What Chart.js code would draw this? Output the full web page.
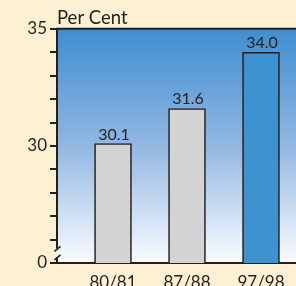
<!DOCTYPE html>
<html>
<head>
<meta charset="utf-8">
<script src="https://cdn.jsdelivr.net/npm/chart.js@4/dist/chart.umd.min.js"></script>
<style>
  html, body { margin: 0; padding: 0; background: #FEF1D3; }
  #wrap { width: 296px; height: 286px; overflow: hidden; }
</style>
</head>
<body>
<div id="wrap"><canvas id="c" width="296" height="286"></canvas></div>
<script>
const categories = ['80/81', '87/88', '97/98'];
const values = [30.1, 31.6, 34.0];
const barColors = ['#D3D3D3', '#D3D3D3', '#3F92D0'];
const yTickValues = [25, 26, 27, 28, 29, 30, 31, 32, 33, 34, 35];
const yLabelValues = [25, 30, 35];
const yLabelText = ['0', '30', '35'];
const yAxisTitle = 'Per Cent';

const INK = '#231F20';
const CREAM = '#FEF1D3';
Chart.defaults.font.family = 'Lato, "Open Sans", sans-serif';
Chart.defaults.color = INK;

const bgPlugin = {
  id: 'bg',
  beforeDraw(chart) {
    const { ctx, chartArea: a } = chart;
    ctx.save();
    ctx.fillStyle = CREAM;
    ctx.fillRect(0, 0, chart.width, chart.height);
    const g = ctx.createLinearGradient(0, a.top, 0, a.bottom);
    g.addColorStop(0, '#3F8ED0');
    g.addColorStop(0.5, '#92B7E1');
    g.addColorStop(1, '#FAFCFF');
    ctx.fillStyle = g;
    ctx.fillRect(a.left, a.top, a.right - a.left, a.bottom - a.top);
    ctx.restore();
  }
};

const framePlugin = {
  id: 'frame',
  afterDraw(chart) {
    const { ctx, chartArea: a } = chart;
    const y = chart.scales.y;
    const L = a.left;
    const gapTop = y.getPixelForValue(25.62);
    const gapBot = y.getPixelForValue(25.22);
    ctx.save();
    ctx.strokeStyle = INK;
    ctx.lineWidth = 2;
    ctx.beginPath();
    ctx.moveTo(a.left, a.top);
    ctx.lineTo(a.right, a.top);
    ctx.moveTo(L, a.top - 1);
    ctx.lineTo(L, gapTop);
    ctx.moveTo(L, gapBot);
    ctx.lineTo(L, a.bottom);
    ctx.stroke();
    ctx.lineWidth = 1.6;
    ctx.beginPath();
    ctx.moveTo(L - 2.5, gapTop + 3);
    ctx.lineTo(L + 3.5, gapTop - 2);
    ctx.moveTo(L - 2.5, gapBot + 2);
    ctx.lineTo(L + 3.5, gapBot - 3);
    ctx.stroke();
    ctx.restore();
  }
};

const labelPlugin = {
  id: 'vlabels',
  afterDatasetsDraw(chart) {
    const { ctx } = chart;
    const meta = chart.getDatasetMeta(0);
    ctx.save();
    ctx.fillStyle = INK;
    ctx.font = '16px Lato, "Open Sans", sans-serif';
    ctx.textAlign = 'center';
    ctx.textBaseline = 'alphabetic';
    meta.data.forEach((bar, i) => {
      ctx.fillText(values[i].toFixed(1), bar.x + 1, bar.y - 4);
    });
    ctx.restore();
  }
};

new Chart(document.getElementById('c'), {
  type: 'bar',
  data: {
    datasets: [{
      data: categories.map((c, i) => ({ x: i, y: values[i] })),
      backgroundColor: barColors,
      borderColor: INK,
      borderWidth: 1.6,
      borderSkipped: 'bottom',
      barThickness: 37
    }]
  },
  options: {
    responsive: false,
    animation: false,
    layout: { padding: 0 },
    plugins: {
      legend: { display: false },
      tooltip: { enabled: false },
      title: {
        display: true,
        text: yAxisTitle,
        align: 'start',
        fullSize: false,
        color: INK,
        font: { size: 18.5, weight: 'normal', lineHeight: 1.1 },
        padding: { top: 7.5, bottom: 1 }
      }
    },
    scales: {
      x: {
        type: 'linear',
        offset: false,
        min: -0.757,
        max: 2.473,
        grid: { display: true, offset: false, drawOnChartArea: false, drawTicks: false },
        border: { display: true, color: INK, width: 2 },
        afterBuildTicks(scale) { scale.ticks = categories.map((c, i) => ({ value: i })); },
        afterFit(scale) { scale.height = 23; },
        ticks: {
          padding: 9,
          color: INK,
          font: { size: 17 },
          maxRotation: 0,
          autoSkip: false,
          callback: (v) => categories[v]
        }
      },
      y: {
        min: 25,
        max: 35,
        grid: { drawOnChartArea: false, drawTicks: true, tickLength: 7, color: INK, lineWidth: 2 },
        border: { display: false },
        afterBuildTicks(scale) { scale.ticks = yTickValues.map(v => ({ value: v })); },
        afterFit(scale) { scale.width = 57; },
        ticks: {
          padding: 3,
          color: INK,
          font: { size: 17 },
          callback: (v) => {
            const k = yLabelValues.indexOf(v);
            return k >= 0 ? yLabelText[k] : '';
          }
        }
      }
    }
  },
  plugins: [bgPlugin, labelPlugin, framePlugin]
});
</script>
</body>
</html>
